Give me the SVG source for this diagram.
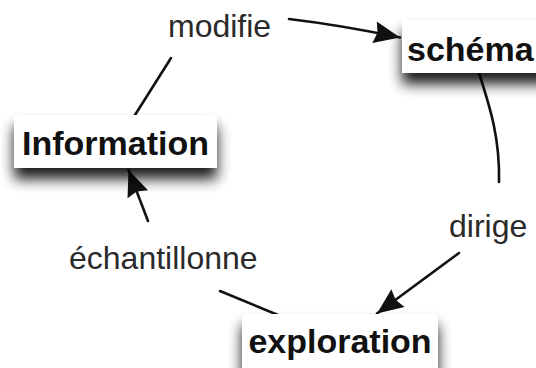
<svg xmlns="http://www.w3.org/2000/svg" width="536" height="368" viewBox="0 0 536 368">
<style>
.box{fill:#fff;filter:url(#sh)}
.bt{font-family:"Liberation Sans",Arial,sans-serif;font-weight:bold;font-size:34px;fill:#111}
.lt{font-family:"Liberation Sans",Arial,sans-serif;font-size:32px;fill:#2a2a2a}
.c{fill:none;stroke:#111;stroke-width:2.6;stroke-linecap:round}
</style>
<defs>
<filter id="sh" x="-20%" y="-40%" width="140%" height="200%">
<feGaussianBlur in="SourceAlpha" stdDeviation="7"/>
<feOffset dx="0" dy="11" result="b"/>
<feComponentTransfer><feFuncA type="linear" slope="0.9"/></feComponentTransfer>
<feMerge><feMergeNode/><feMergeNode in="SourceGraphic"/></feMerge>
</filter>
<marker id="ah" markerUnits="userSpaceOnUse" markerWidth="28" markerHeight="24" refX="26" refY="11" orient="auto" overflow="visible">
<path d="M0,0 L26,11 L0,22 L3,11 z" fill="#111"/>
</marker>
</defs>
<rect width="536" height="368" fill="#fff"/>
<g id="connectors">
<path class="c" d="M289,19 Q340,25 400,37.5" marker-end="url(#ah)"/>
<path class="c" d="M479,73 C491,110 500,140 499,182"/>
<path class="c" d="M459,253 L377,313.5" marker-end="url(#ah)"/>
<path class="c" d="M278,315 L220,291"/>
<path class="c" d="M148,221 L128.5,170" marker-end="url(#ah)"/>
<path class="c" d="M171,58 L135,115"/>
<text class="lt" x="168" y="37">modifie</text>
<text class="lt" x="449" y="237">dirige</text>
<text class="lt" x="69" y="269">échantillonne</text>
</g>
<g id="node-information">
<rect class="box" x="14" y="115" width="203" height="53"/>
<text class="bt" x="115.5" y="155" text-anchor="middle">Information</text>
</g>
<g id="node-schema">
<rect class="box" x="402" y="20" width="150" height="53"/>
<text class="bt" x="407" y="61">schéma</text>
</g>
<g id="node-exploration">
<rect class="box" x="242" y="314" width="196" height="60"/>
<text class="bt" x="340" y="353" text-anchor="middle">exploration</text>
</g>
</svg>
